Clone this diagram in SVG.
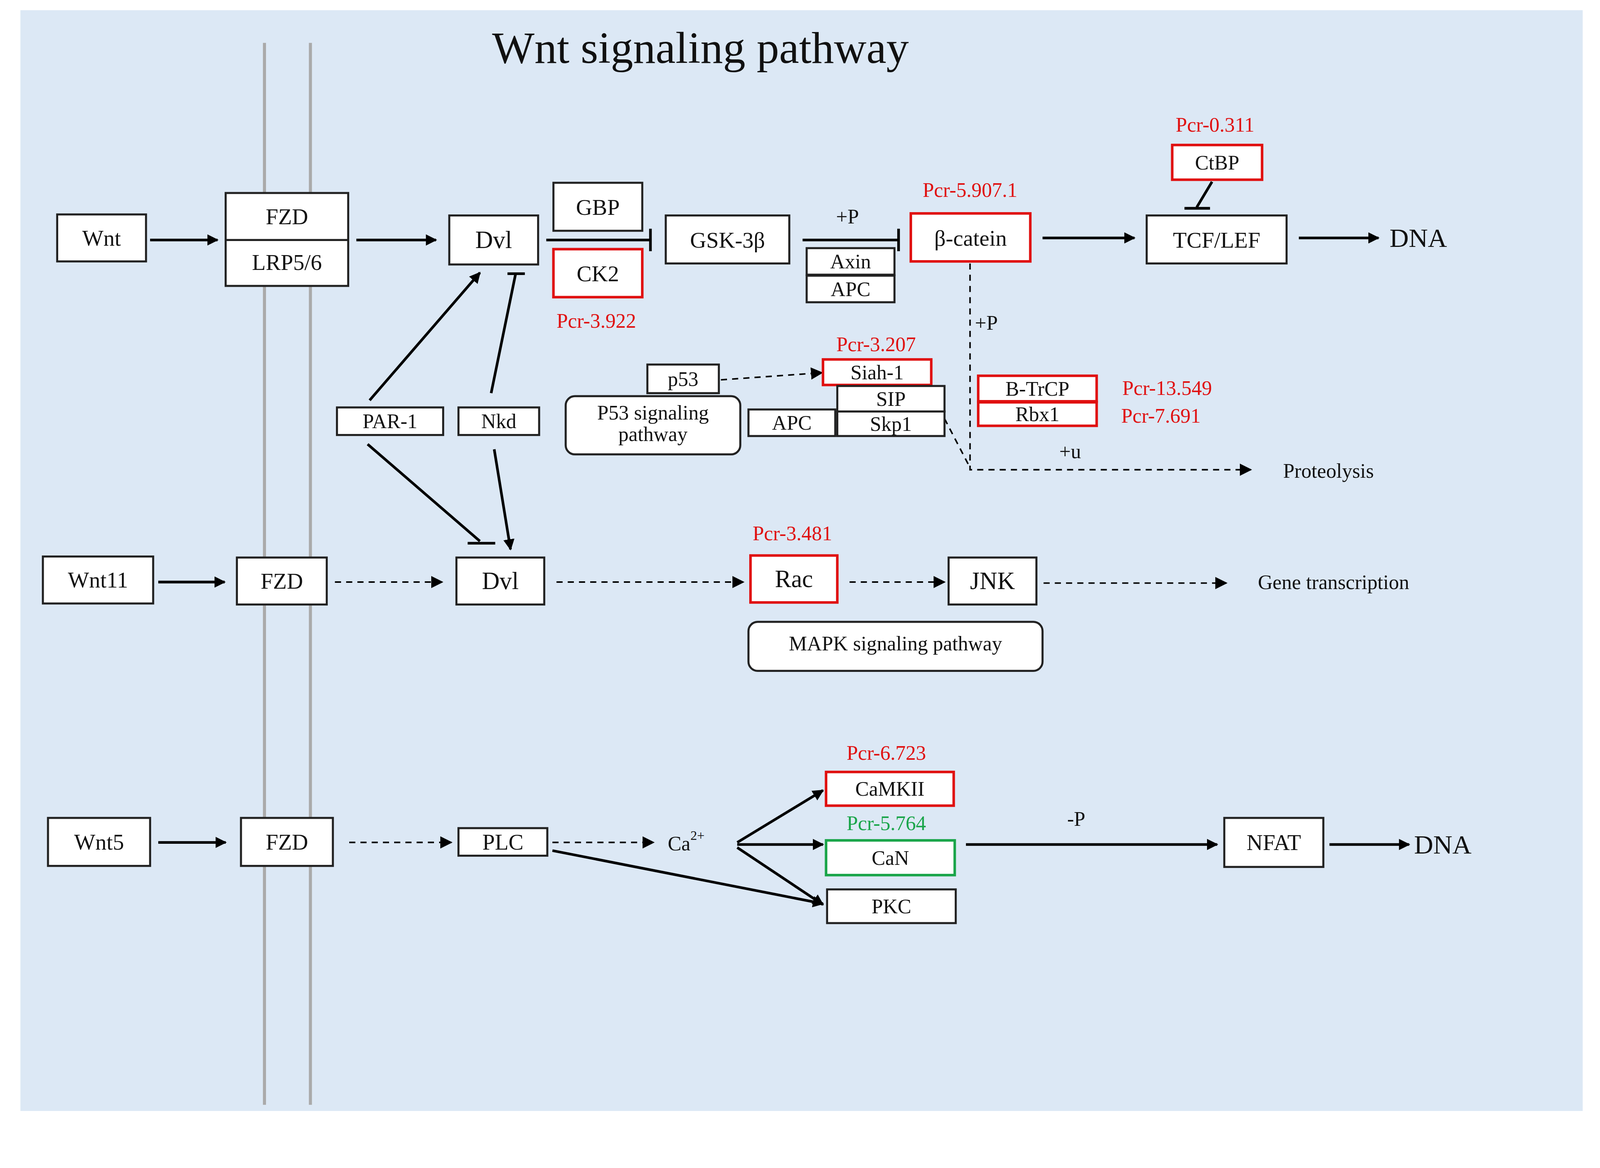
<svg xmlns="http://www.w3.org/2000/svg" width="4255" height="2990" viewBox="0 0 4255 2990">
<defs>
<style>
text{font-family:"Liberation Serif","Times New Roman",serif;fill:#111;text-anchor:middle;dominant-baseline:central}
.n{fill:#fff;stroke:#222;stroke-width:2}
.r{fill:#fff;stroke:#e01010;stroke-width:2.5}
.g{fill:#fff;stroke:#1aa54a;stroke-width:2.5}
.c{fill:none;stroke:#000;stroke-width:2.6}
.d{fill:none;stroke:#000;stroke-width:1.5;stroke-dasharray:6 5}
.t{font-size:22px}.s{font-size:20px}
.red{fill:#e01010;font-size:20px}.grn{fill:#1aa54a;font-size:20px}
</style>
<marker id="a" viewBox="0 0 10 10" refX="9" refY="5" markerWidth="11" markerHeight="11" markerUnits="userSpaceOnUse" orient="auto"><path d="M0,0L10,5L0,10z" fill="#000"/></marker>
<marker id="ad" viewBox="0 0 10 10" refX="9" refY="5" markerWidth="12" markerHeight="12" markerUnits="userSpaceOnUse" orient="auto"><path d="M0,0L10,5L0,10z" fill="#000"/></marker>
</defs>
<rect width="4255" height="2990" fill="#fff"/>
<g transform="scale(2.614)">
<rect x="20" y="10" width="1530" height="1078" fill="#dce8f5"/>
<line x1="259" y1="42" x2="259" y2="1082" stroke="#aaa" stroke-width="3"/>
<line x1="304" y1="42" x2="304" y2="1082" stroke="#aaa" stroke-width="3"/>
<text x="686" y="47" style="font-size:44px">Wnt signaling pathway</text>

<g id="connectors">
<line class="c" x1="147" y1="235" x2="213" y2="235" marker-end="url(#a)"/>
<line class="c" x1="349" y1="235" x2="427" y2="235" marker-end="url(#a)"/>
<line class="c" x1="535" y1="235" x2="637" y2="235"/><line class="c" x1="637" y1="224" x2="637" y2="246"/>
<line class="c" x1="786" y1="235" x2="880" y2="235"/><line class="c" x1="880" y1="224" x2="880" y2="246"/>
<line class="c" x1="1021" y1="233" x2="1111" y2="233" marker-end="url(#a)"/>
<line class="c" x1="1272" y1="233" x2="1350" y2="233" marker-end="url(#a)"/>
<line class="c" x1="1187" y1="178" x2="1172" y2="203"/><line class="c" x1="1160" y1="204" x2="1185" y2="204"/>
<polyline class="d" points="950,258 950,460 1225,460" marker-end="url(#ad)"/>
<line class="d" x1="925" y1="410" x2="950" y2="458"/>
<line class="d" x1="706" y1="372" x2="805" y2="365" marker-end="url(#ad)"/>
<line class="c" x1="362" y1="392" x2="470" y2="267" marker-end="url(#a)"/>
<line class="c" x1="481" y1="385" x2="505" y2="268"/><line class="c" x1="497" y1="268" x2="514" y2="268"/>
<line class="c" x1="360" y1="435" x2="470" y2="530"/><line class="c" x1="458" y1="532" x2="485" y2="532"/>
<line class="c" x1="484" y1="440" x2="500" y2="538" marker-end="url(#a)"/>
<line class="c" x1="155" y1="570" x2="220" y2="570" marker-end="url(#a)"/>
<line class="d" x1="328" y1="570" x2="433" y2="570" marker-end="url(#ad)"/>
<line class="d" x1="545" y1="570" x2="728" y2="570" marker-end="url(#ad)"/>
<line class="d" x1="832" y1="570" x2="925" y2="570" marker-end="url(#ad)"/>
<line class="d" x1="1022" y1="571" x2="1201" y2="571" marker-end="url(#ad)"/>
<line class="c" x1="155" y1="825" x2="221" y2="825" marker-end="url(#a)"/>
<line class="d" x1="342" y1="825" x2="442" y2="825" marker-end="url(#ad)"/>
<line class="d" x1="541" y1="825" x2="640" y2="825" marker-end="url(#ad)"/>
<line class="c" x1="722" y1="825" x2="806" y2="774" marker-end="url(#a)"/>
<line class="c" x1="722" y1="827" x2="806" y2="827" marker-end="url(#a)"/>
<line class="c" x1="722" y1="830" x2="806" y2="886" marker-end="url(#a)"/>
<line class="c" x1="541" y1="833" x2="806" y2="885" marker-end="url(#a)"/>
<line class="c" x1="946" y1="827" x2="1192" y2="827" marker-end="url(#a)"/>
<line class="c" x1="1302" y1="827" x2="1380" y2="827" marker-end="url(#a)"/>
</g>

<g id="wnt"><rect class="n" x="56" y="210" width="87" height="46"/><text class="t" x="99.5" y="233">Wnt</text></g>
<g id="fzd-lrp"><rect class="n" x="221" y="189" width="120" height="91"/><line x1="221" y1="235" x2="341" y2="235" stroke="#222" stroke-width="2"/><text class="t" x="281" y="212">FZD</text><text class="t" x="281" y="257">LRP5/6</text></g>
<g id="dvl1"><rect class="n" x="440" y="211" width="87" height="48"/><text class="t" x="483.5" y="235" style="font-size:24px">Dvl</text></g>
<g id="gbp"><rect class="n" x="542" y="179" width="87" height="47"/><text class="t" x="585.5" y="203">GBP</text></g>
<g id="ck2"><rect class="r" x="542" y="244" width="87" height="47"/><text class="t" x="585.5" y="268">CK2</text></g>
<g id="gsk"><rect class="n" x="652" y="211" width="121" height="47"/><text class="t" x="712.5" y="235">GSK-3β</text></g>
<g id="axin"><rect class="n" x="790" y="243" width="86" height="26"/><text class="s" x="833" y="256">Axin</text></g>
<g id="apc1"><rect class="n" x="790" y="270" width="86" height="26"/><text class="s" x="833" y="283">APC</text></g>
<g id="bcat"><rect class="r" x="892" y="209" width="117" height="47"/><text class="t" x="950.5" y="233">β-catein</text></g>
<g id="ctbp"><rect class="r" x="1148" y="142" width="88" height="34"/><text class="s" x="1192" y="159">CtBP</text></g>
<g id="tcf"><rect class="n" x="1123" y="211" width="137" height="47"/><text class="t" x="1191.5" y="235">TCF/LEF</text></g>
<text x="1389" y="233" style="font-size:26px">DNA</text>
<g id="p53"><rect class="n" x="634" y="357" width="70" height="28"/><text class="s" x="669" y="371">p53</text></g>
<g id="p53path"><rect class="n" x="554" y="388" width="171" height="57" rx="9"/><text class="s" x="639.5" y="404">P53 signaling</text><text class="s" x="639.5" y="425">pathway</text></g>
<g id="siah"><rect class="r" x="806" y="352" width="106" height="25"/><text class="s" x="859" y="364.5">Siah-1</text></g>
<g id="sip"><rect class="n" x="820" y="378" width="105" height="25"/><text class="s" x="872.5" y="390.5">SIP</text></g>
<g id="skp1"><rect class="n" x="820" y="403" width="105" height="24"/><text class="s" x="872.5" y="415">Skp1</text></g>
<g id="apc2"><rect class="n" x="733" y="401" width="85" height="26"/><text class="s" x="775.5" y="414">APC</text></g>
<g id="btrcp"><rect class="r" x="958" y="368" width="116" height="25"/><text class="s" x="1016" y="380.5">B-TrCP</text></g>
<g id="rbx1"><rect class="r" x="958" y="394" width="116" height="23"/><text class="s" x="1016" y="405.5">Rbx1</text></g>
<text class="s" x="1301" y="461">Proteolysis</text>
<g id="par1"><rect class="n" x="330" y="399" width="104" height="27"/><text class="s" x="382" y="412.5">PAR-1</text></g>
<g id="nkd"><rect class="n" x="449" y="399" width="79" height="27"/><text class="s" x="488.5" y="412.5">Nkd</text></g>
<g id="wnt11"><rect class="n" x="42" y="545" width="108" height="46"/><text class="t" x="96" y="568">Wnt11</text></g>
<g id="fzd2"><rect class="n" x="232" y="546" width="88" height="46"/><text class="t" x="276" y="569">FZD</text></g>
<g id="dvl2"><rect class="n" x="447" y="546" width="86" height="46"/><text class="t" x="490" y="569" style="font-size:24px">Dvl</text></g>
<g id="rac"><rect class="r" x="735" y="544" width="85" height="46"/><text class="t" x="777.5" y="567" style="font-size:24px">Rac</text></g>
<g id="jnk"><rect class="n" x="929" y="546" width="86" height="46"/><text class="t" x="972" y="569" style="font-size:24px">JNK</text></g>
<text class="s" x="1306" y="570">Gene transcription</text>
<g id="mapk"><rect class="n" x="733" y="609" width="288" height="48" rx="9"/><text class="s" x="877" y="630">MAPK signaling pathway</text></g>
<g id="wnt5"><rect class="n" x="47" y="801" width="100" height="47"/><text class="t" x="97" y="824.5">Wnt5</text></g>
<g id="fzd3"><rect class="n" x="236" y="801" width="90" height="47"/><text class="t" x="281" y="824.5">FZD</text></g>
<g id="plc"><rect class="n" x="449" y="811" width="87" height="27"/><text class="t" x="492.5" y="824.5">PLC</text></g>
<text x="672" y="826" class="s">Ca<tspan dy="-8" style="font-size:13px">2+</tspan></text>
<g id="camkii"><rect class="r" x="809" y="756" width="125" height="33"/><text class="s" x="871.5" y="772.5">CaMKII</text></g>
<g id="can"><rect class="g" x="809" y="823" width="126" height="34"/><text class="s" x="872" y="840">CaN</text></g>
<g id="pkc"><rect class="n" x="810" y="871" width="126" height="33"/><text class="s" x="873" y="887.5">PKC</text></g>
<g id="nfat"><rect class="n" x="1199" y="801" width="97" height="48"/><text class="t" x="1247.5" y="825">NFAT</text></g>
<text x="1413" y="827" style="font-size:26px">DNA</text>

<text class="red" x="1190" y="122">Pcr-0.311</text>
<text class="red" x="950" y="186">Pcr-5.907.1</text>
<text class="red" x="584" y="314">Pcr-3.922</text>
<text class="red" x="858" y="337">Pcr-3.207</text>
<text class="red" x="1143" y="380">Pcr-13.549</text>
<text class="red" x="1137" y="407">Pcr-7.691</text>
<text class="red" x="776" y="522">Pcr-3.481</text>
<text class="red" x="868" y="737">Pcr-6.723</text>
<text class="grn" x="868" y="806">Pcr-5.764</text>
<text class="s" x="830" y="212">+P</text>
<text class="s" x="966" y="316">+P</text>
<text class="s" x="1048" y="442">+u</text>
<text class="s" x="1054" y="802">-P</text>
</g>
</svg>
